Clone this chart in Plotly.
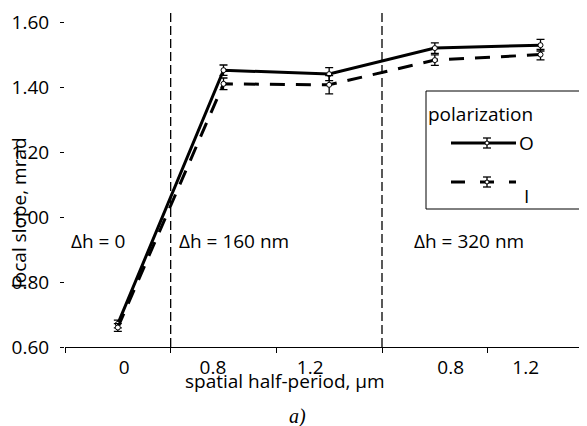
import plotly.graph_objects as go

# ---- data ----
categories = ["0", "0.8", "1.2", "0.8", "1.2"]
label_pos = [0.06, 0.90, 1.82, 3.15, 3.86]
series_o = [0.671, 1.452, 1.440, 1.520, 1.529]
err_o = [0.012, 0.016, 0.020, 0.016, 0.018]
series_i = [0.660, 1.410, 1.407, 1.483, 1.500]
err_i = [0.012, 0.018, 0.028, 0.016, 0.016]
y_ticks = [0.6, 0.8, 1.0, 1.2, 1.4, 1.6]
regions = ["Δh = 0", "Δh = 160 nm", "Δh = 320 nm"]
region_x = [-0.19, 1.10, 3.32]
boundaries = [0.5, 2.5]
legend_title = "polarization"
legend_names = ["O", "I"]

FONT = "Open Sans"
FS = 19
# page body has an 8px margin: figure is drawn 8px smaller to fit the window
OFF = 8
W, H = 587 - OFF, 426 - OFF
PLOT_L, PLOT_R, PLOT_T, PLOT_B = 65, 587, 13, 347   # window pixels of the plot area
ML, MR, MT, MB = PLOT_L - OFF, 0, PLOT_T - OFF, H - (PLOT_B - OFF)
PW, PH = PLOT_R - PLOT_L, PLOT_B - PLOT_T

def px(xw):
    return (xw - PLOT_L) / PW

def py(yw):
    return (PLOT_B - yw) / PH

xs = list(range(len(categories)))

fig = go.Figure()
fig.add_trace(go.Scatter(
    x=xs, y=series_o, mode="lines+markers", name=legend_names[0],
    line=dict(color="black", width=3),
    marker=dict(symbol="circle", size=5, color="white", line=dict(color="black", width=1)),
    error_y=dict(type="data", array=err_o, visible=True, color="black", thickness=1.3, width=4),
    showlegend=False))
fig.add_trace(go.Scatter(
    x=xs, y=series_i, mode="lines+markers", name=legend_names[1],
    line=dict(color="black", width=3, dash="15px,11px"),
    marker=dict(symbol="circle", size=5, color="white", line=dict(color="black", width=1)),
    error_y=dict(type="data", array=err_i, visible=True, color="black", thickness=1.3, width=4),
    showlegend=False))

shapes = []
for b in boundaries:
    shapes.append(dict(type="line", xref="x", yref="paper", x0=b, x1=b, y0=0, y1=1,
                       line=dict(color="black", width=1.3, dash="9px,4px")))

# manual legend
shapes.append(dict(type="rect", xref="paper", yref="paper",
                   x0=px(426), x1=px(584), y0=py(209), y1=py(91),
                   line=dict(color="black", width=1), fillcolor="white", layer="above"))
for yy, dash in [(143, "solid"), (182, "14px,15px")]:
    shapes.append(dict(type="line", xref="paper", yref="paper",
                       x0=px(451), x1=px(516), y0=py(yy), y1=py(yy),
                       line=dict(color="black", width=3, dash=dash), layer="above"))
    shapes.append(dict(type="line", xref="paper", yref="paper",
                       x0=px(487), x1=px(487), y0=py(yy - 5), y1=py(yy + 5),
                       line=dict(color="black", width=1.3), layer="above"))
    for cy in (yy - 5, yy + 5):
        shapes.append(dict(type="line", xref="paper", yref="paper",
                           x0=px(483), x1=px(491), y0=py(cy), y1=py(cy),
                           line=dict(color="black", width=1.3), layer="above"))
    shapes.append(dict(type="circle", xref="paper", yref="paper",
                       x0=px(485), x1=px(489), y0=py(yy + 2), y1=py(yy - 2),
                       line=dict(color="black", width=1), fillcolor="white", layer="above"))

def txt(text, x, y, xref="paper", xanchor="center", size=FS, family=FONT, angle=0):
    return dict(text=text, x=x, y=y, xref=xref, yref="paper", showarrow=False,
                xanchor=xanchor, yanchor="middle", textangle=angle,
                font=dict(family=family, size=size, color="black"))

annotations = []
for t, rx in zip(regions, region_x):
    annotations.append(txt(t, rx, py(241), xref="x"))
annotations.append(txt("local slope, mrad", px(19), py(213), angle=-90))
annotations.append(txt("spatial half-period, µm", px(285), py(381)))
annotations.append(txt("<i>a)</i>", px(297), py(416), size=20, family="Liberation Serif"))
annotations.append(txt(legend_title, px(426), py(114), xanchor="left"))
annotations.append(txt(legend_names[0], px(517), py(143), xanchor="left"))
annotations.append(txt(legend_names[1], px(526), py(196)))

fig.update_layout(
    width=W, height=H,
    margin=dict(l=ML, r=MR, t=MT, b=MB, autoexpand=False),
    paper_bgcolor="white", plot_bgcolor="white",
    font=dict(family=FONT, size=FS, color="black"),
    shapes=shapes, annotations=annotations,
    xaxis=dict(range=[-0.5, 4.44], tickmode="array", tickvals=label_pos, ticktext=categories,
               ticks="", showline=True, linecolor="black", linewidth=1.3,
               showgrid=False, zeroline=False, ticklabelstandoff=3,
               tickfont=dict(family=FONT, size=FS, color="black"),
               minor=dict(tickmode="array", tickvals=[-0.5, 0.5, 1.5, 2.5, 3.5],
                          ticks="outside", ticklen=5, tickcolor="black", tickwidth=1, showgrid=False)),
    yaxis=dict(range=[0.6, 1.628], tickmode="array", tickvals=y_ticks, tickformat=".2f",
               ticks="outside", ticklen=4, tickcolor="black", showline=False,
               showgrid=False, zeroline=False, ticklabelstandoff=7,
               tickfont=dict(family=FONT, size=FS, color="black")),
)

fig.write_html("out.html")
